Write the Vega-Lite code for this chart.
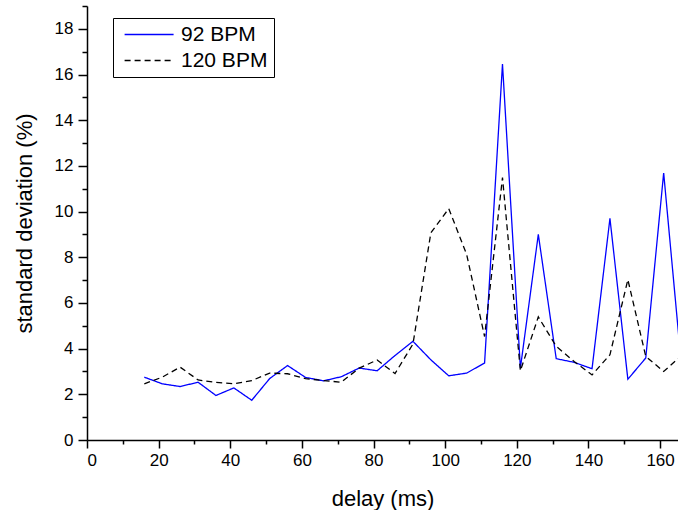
{
  "$schema": "https://vega.github.io/schema/vega-lite/v6.json",
  "width": 591,
  "height": 434,
  "autosize": "none",
  "padding": {"left": 87, "top": 6, "right": 0, "bottom": 70},
  "background": "white",
  "config": {
    "view": {"stroke": null},
    "font": "Liberation Sans",
    "axis": {
      "domainColor": "black",
      "domainWidth": 1.5,
      "tickColor": "black",
      "tickWidth": 1.5,
      "labelFont": "Liberation Sans",
      "labelFontSize": 17,
      "labelColor": "black",
      "titleFont": "Liberation Sans",
      "titleFontSize": 22,
      "titleFontWeight": "normal",
      "titleColor": "black",
      "grid": false
    },
    "legend": {
      "title": null,
      "fillColor": "white",
      "strokeColor": "black",
      "padding": 6,
      "rowPadding": 4,
      "symbolType": "M-1,0H9",
      "symbolSize": 96,
      "symbolStrokeWidth": 1.3,
      "labelFont": "Liberation Sans",
      "labelFontSize": 21,
      "labelColor": "black",
      "labelOffset": 41
    }
  },
  "data": {
    "values": [
      {"delay": 16, "series": "92 BPM", "sd": 2.75},
      {"delay": 21, "series": "92 BPM", "sd": 2.46},
      {"delay": 26, "series": "92 BPM", "sd": 2.34},
      {"delay": 31, "series": "92 BPM", "sd": 2.53},
      {"delay": 36, "series": "92 BPM", "sd": 1.95},
      {"delay": 41, "series": "92 BPM", "sd": 2.28},
      {"delay": 46, "series": "92 BPM", "sd": 1.74},
      {"delay": 51, "series": "92 BPM", "sd": 2.69},
      {"delay": 56, "series": "92 BPM", "sd": 3.26},
      {"delay": 61, "series": "92 BPM", "sd": 2.74},
      {"delay": 66, "series": "92 BPM", "sd": 2.59},
      {"delay": 71, "series": "92 BPM", "sd": 2.77},
      {"delay": 76, "series": "92 BPM", "sd": 3.15},
      {"delay": 81, "series": "92 BPM", "sd": 3.03},
      {"delay": 86, "series": "92 BPM", "sd": 3.7},
      {"delay": 91, "series": "92 BPM", "sd": 4.32},
      {"delay": 96, "series": "92 BPM", "sd": 3.51},
      {"delay": 101, "series": "92 BPM", "sd": 2.81},
      {"delay": 106, "series": "92 BPM", "sd": 2.93},
      {"delay": 111, "series": "92 BPM", "sd": 3.37},
      {"delay": 116, "series": "92 BPM", "sd": 16.46},
      {"delay": 121, "series": "92 BPM", "sd": 3.15},
      {"delay": 126, "series": "92 BPM", "sd": 9.0},
      {"delay": 131, "series": "92 BPM", "sd": 3.56},
      {"delay": 136, "series": "92 BPM", "sd": 3.4},
      {"delay": 141, "series": "92 BPM", "sd": 3.12},
      {"delay": 146, "series": "92 BPM", "sd": 9.7},
      {"delay": 151, "series": "92 BPM", "sd": 2.66},
      {"delay": 156, "series": "92 BPM", "sd": 3.59},
      {"delay": 161, "series": "92 BPM", "sd": 11.69},
      {"delay": 166, "series": "92 BPM", "sd": 3.2},
      {"delay": 16, "series": "120 BPM", "sd": 2.46},
      {"delay": 21, "series": "120 BPM", "sd": 2.75},
      {"delay": 26, "series": "120 BPM", "sd": 3.19},
      {"delay": 31, "series": "120 BPM", "sd": 2.63},
      {"delay": 36, "series": "120 BPM", "sd": 2.52},
      {"delay": 41, "series": "120 BPM", "sd": 2.46},
      {"delay": 46, "series": "120 BPM", "sd": 2.6},
      {"delay": 51, "series": "120 BPM", "sd": 2.93},
      {"delay": 56, "series": "120 BPM", "sd": 2.9},
      {"delay": 61, "series": "120 BPM", "sd": 2.69},
      {"delay": 66, "series": "120 BPM", "sd": 2.6},
      {"delay": 71, "series": "120 BPM", "sd": 2.53},
      {"delay": 76, "series": "120 BPM", "sd": 3.15},
      {"delay": 81, "series": "120 BPM", "sd": 3.5},
      {"delay": 86, "series": "120 BPM", "sd": 2.91},
      {"delay": 91, "series": "120 BPM", "sd": 4.2},
      {"delay": 96, "series": "120 BPM", "sd": 9.07},
      {"delay": 101, "series": "120 BPM", "sd": 10.13},
      {"delay": 106, "series": "120 BPM", "sd": 8.12},
      {"delay": 111, "series": "120 BPM", "sd": 4.53},
      {"delay": 116, "series": "120 BPM", "sd": 11.49},
      {"delay": 121, "series": "120 BPM", "sd": 3.03},
      {"delay": 126, "series": "120 BPM", "sd": 5.39},
      {"delay": 131, "series": "120 BPM", "sd": 4.1},
      {"delay": 136, "series": "120 BPM", "sd": 3.44},
      {"delay": 141, "series": "120 BPM", "sd": 2.85},
      {"delay": 146, "series": "120 BPM", "sd": 3.73},
      {"delay": 151, "series": "120 BPM", "sd": 7.02},
      {"delay": 156, "series": "120 BPM", "sd": 3.66},
      {"delay": 161, "series": "120 BPM", "sd": 3.0},
      {"delay": 166, "series": "120 BPM", "sd": 3.7}
    ]
  },
  "mark": {"type": "line", "clip": true, "strokeWidth": 1.3},
  "encoding": {
    "x": {
      "field": "delay",
      "type": "quantitative",
      "title": "delay (ms)",
      "scale": {"domain": [0, 165], "nice": false, "zero": false},
      "axis": {
        "values": [0, 10, 20, 30, 40, 50, 60, 70, 80, 90, 100, 110, 120, 130, 140, 150, 160],
        "tickSize": {"expr": "datum.value % 20 === 0 ? 8 : 4"},
        "labelExpr": "datum.value % 20 === 0 ? datum.label : ''",
        "labelPadding": 4,
        "titlePadding": 20
      }
    },
    "y": {
      "field": "sd",
      "type": "quantitative",
      "title": "standard deviation (%)",
      "scale": {"domain": [0, 19], "nice": false},
      "axis": {
        "values": [0, 1, 2, 3, 4, 5, 6, 7, 8, 9, 10, 11, 12, 13, 14, 15, 16, 17, 18, 19],
        "tickSize": {"expr": "datum.value % 2 === 0 ? 9 : 5"},
        "labelExpr": "datum.value % 2 === 0 ? datum.label : ''",
        "labelPadding": 5,
        "titlePadding": 18
      }
    },
    "color": {
      "field": "series",
      "type": "nominal",
      "scale": {"domain": ["92 BPM", "120 BPM"], "range": ["#0000FF", "#000000"]},
      "legend": {"orient": "none", "legendX": 26, "legendY": 12}
    },
    "strokeDash": {
      "field": "series",
      "type": "nominal",
      "scale": {"domain": ["92 BPM", "120 BPM"], "range": [[1, 0], [6, 4]]},
      "legend": {"orient": "none", "legendX": 26, "legendY": 12}
    }
  }
}
